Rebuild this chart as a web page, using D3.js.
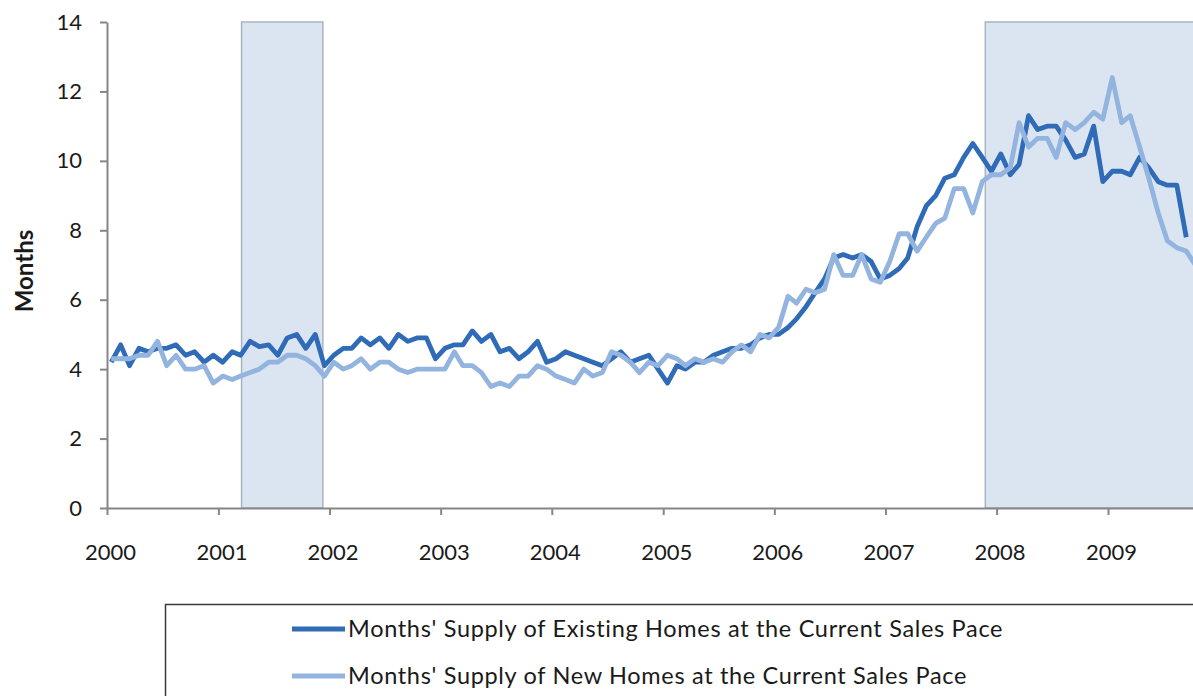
<!DOCTYPE html>
<html>
<head>
<meta charset="utf-8">
<script src="https://cdn.jsdelivr.net/npm/d3@7"></script>
<style>
  body { margin: 0; background: white; }
  svg { display: block; }
</style>
</head>
<body>
<div id="supply_chart"></div>
<script>
// months' supply of existing and new homes, monthly Jan 2000 - Oct 2009

// first month of the series
const startMonth = "2000-01";

// months' supply of existing homes (Jan 2000 onward)
const existingHomes = [
  4.2, 4.7, 4.1, 4.6, 4.5, 4.6, 4.6, 4.7, 4.4, 4.5, 4.2, 4.4,   // 2000
  4.2, 4.5, 4.4, 4.8, 4.65, 4.7, 4.4, 4.9, 5.0, 4.6, 5.0, 4.1,  // 2001
  4.4, 4.6, 4.6, 4.9, 4.7, 4.9, 4.6, 5.0, 4.8, 4.9, 4.9, 4.3,   // 2002
  4.6, 4.7, 4.7, 5.1, 4.8, 5.0, 4.5, 4.6, 4.3, 4.5, 4.8, 4.2,   // 2003
  4.3, 4.5, 4.4, 4.3, 4.2, 4.1, 4.3, 4.5, 4.2, 4.3, 4.4, 4.0,   // 2004
  3.6, 4.1, 4.0, 4.2, 4.2, 4.4, 4.5, 4.6, 4.6, 4.7, 4.9, 5.0,   // 2005
  5.0, 5.2, 5.45, 5.8, 6.2, 6.6, 7.2, 7.3, 7.2, 7.3, 7.1, 6.6,  // 2006
  6.7, 6.9, 7.2, 8.1, 8.7, 9.0, 9.5, 9.6, 10.1, 10.5, 10.1, 9.7, // 2007
  10.2, 9.6, 9.9, 11.3, 10.9, 11.0, 11.0, 10.6, 10.1, 10.2, 11.0, 9.4, // 2008
  9.7, 9.7, 9.6, 10.1, 9.8, 9.4, 9.3, 9.3, 7.8                 // 2009
];

// months' supply of new homes (Jan 2000 onward)
const newHomes = [
  4.3, 4.3, 4.3, 4.4, 4.4, 4.8, 4.1, 4.4, 4.0, 4.0, 4.1, 3.6,   // 2000
  3.8, 3.7, 3.8, 3.9, 4.0, 4.2, 4.2, 4.4, 4.4, 4.3, 4.1, 3.8,   // 2001
  4.2, 4.0, 4.1, 4.3, 4.0, 4.2, 4.2, 4.0, 3.9, 4.0, 4.0, 4.0,   // 2002
  4.0, 4.5, 4.1, 4.1, 3.9, 3.5, 3.6, 3.5, 3.8, 3.8, 4.1, 4.0,   // 2003
  3.8, 3.7, 3.6, 4.0, 3.8, 3.9, 4.5, 4.4, 4.2, 3.9, 4.2, 4.1,   // 2004
  4.4, 4.3, 4.1, 4.3, 4.2, 4.3, 4.2, 4.5, 4.7, 4.5, 5.0, 4.9,   // 2005
  5.2, 6.1, 5.9, 6.3, 6.2, 6.3, 7.3, 6.7, 6.7, 7.3, 6.6, 6.5,   // 2006
  7.1, 7.9, 7.9, 7.4, 7.8, 8.2, 8.35, 9.2, 9.2, 8.5, 9.4, 9.6,  // 2007
  9.6, 9.8, 11.1, 10.4, 10.65, 10.65, 10.1, 11.1, 10.9, 11.1, 11.4, 11.2, // 2008
  12.4, 11.1, 11.3, 10.4, 9.5, 8.5, 7.7, 7.5, 7.4, 7.0          // 2009
];

// recession periods (shaded)
const recessions = [
  ["2001-03-18", "2001-12-10"],
  ["2007-11-25", "2010-06-01"]
];

// axis ticks
const yearTicks = [2000, 2001, 2002, 2003, 2004, 2005, 2006, 2007, 2008, 2009];
const yTicks = [0, 2, 4, 6, 8, 10, 12, 14];

// series labels
const seriesNames = [
  "Months' Supply of Existing Homes at the Current Sales Pace",
  "Months' Supply of New Homes at the Current Sales Pace"
];

// layout
const w = 1193, h = 696;
const margin = {top: 22, left: 107, bottom: 188, right: 0};
const fontFamily = "Lato, 'Open Sans', sans-serif";
const axisGrey = "#868686";
const textColor = "#1a1a1a";
const darkBlue = "#2f6bb7";
const lightBlue = "#93b4df";

// parse dates; each monthly value is plotted at the middle of its month
const parseDay = d3.timeParse("%Y-%m-%d");
const firstMonth = d3.timeParse("%Y-%m")(startMonth);
const monthDate = i => d3.timeDay.offset(d3.timeMonth.offset(firstMonth, i), 14);

// scales
const x = d3.scaleTime()
  .domain([new Date(2000, 0, 1), new Date(2009, 0, 1)])
  .range([margin.left, 1108]);

const y = d3.scaleLinear()
  .domain([0, 14])
  .range([h - margin.bottom, margin.top]);

// svg
const svg = d3.select("#supply_chart")
  .append("svg")
  .attr("width", w)
  .attr("height", h);

// recession shading
svg.append("g")
  .selectAll("rect")
  .data(recessions)
  .join("rect")
    .attr("x", d => x(parseDay(d[0])))
    .attr("y", y(14))
    .attr("width", d => x(parseDay(d[1])) - x(parseDay(d[0])))
    .attr("height", y(0) - y(14))
    .attr("fill", "#dbe5f1")
    .attr("stroke", "#a9b3c2")
    .attr("stroke-width", 1.5);

// lines (new homes drawn on top)
const line = d3.line()
  .x((d, i) => x(monthDate(i)))
  .y(d => y(d));

svg.append("path")
  .datum(existingHomes)
  .attr("fill", "none")
  .attr("stroke", darkBlue)
  .attr("stroke-width", 4.8)
  .attr("stroke-linejoin", "round")
  .attr("d", line);

svg.append("path")
  .datum(newHomes)
  .attr("fill", "none")
  .attr("stroke", lightBlue)
  .attr("stroke-width", 4.8)
  .attr("stroke-linejoin", "round")
  .attr("d", line);

// x axis
const xAxis = svg.append("g")
  .attr("transform", `translate(0,${y(0)})`)
  .call(d3.axisBottom(x)
    .tickValues(yearTicks.map(yr => new Date(yr, 0, 1)))
    .tickFormat(d3.timeFormat("%Y"))
    .tickSize(7)
    .tickSizeOuter(0)
    .tickPadding(29));

xAxis.select(".domain").attr("d", `M${margin.left},0.5H${w + 10}`);
xAxis.selectAll(".tick text").attr("dx", 3);

// y axis
const yAxis = svg.append("g")
  .attr("transform", `translate(${margin.left},0)`)
  .call(d3.axisLeft(y)
    .tickValues(yTicks)
    .tickSize(7)
    .tickSizeOuter(0)
    .tickPadding(18));

svg.selectAll(".domain, .tick line")
  .attr("stroke", axisGrey)
  .attr("stroke-width", 2);

svg.selectAll(".tick text")
  .style("font-family", fontFamily)
  .style("font-size", "22px")
  .attr("fill", textColor);

// y axis title
svg.append("text")
  .attr("transform", `translate(33,${(y(0) + y(14)) / 2 + 6}) rotate(-90)`)
  .attr("text-anchor", "middle")
  .style("font-family", fontFamily)
  .style("font-size", "24px")
  .style("font-weight", "bold")
  .attr("fill", textColor)
  .text("Months");

// legend box
const legend = svg.append("g");

legend.append("rect")
  .attr("x", 165.5)
  .attr("y", 604.5)
  .attr("width", 1060)
  .attr("height", 120)
  .attr("fill", "white")
  .attr("stroke", "#3a3a3a")
  .attr("stroke-width", 1.5);

const legendRows = legend.selectAll(".legend-row")
  .data(seriesNames)
  .join("g")
    .attr("class", "legend-row")
    .attr("transform", (d, i) => `translate(292,${629 + i * 47})`);

legendRows.append("line")
  .attr("x1", 0)
  .attr("x2", 53)
  .attr("stroke", (d, i) => i === 0 ? darkBlue : lightBlue)
  .attr("stroke-width", 4.8);

legendRows.append("text")
  .attr("x", 56)
  .attr("dy", "0.36em")
  .style("font-family", fontFamily)
  .style("font-size", "23.5px")
  .style("letter-spacing", "0.68px")
  .attr("fill", textColor)
  .text(d => d);
</script>
</body>
</html>
